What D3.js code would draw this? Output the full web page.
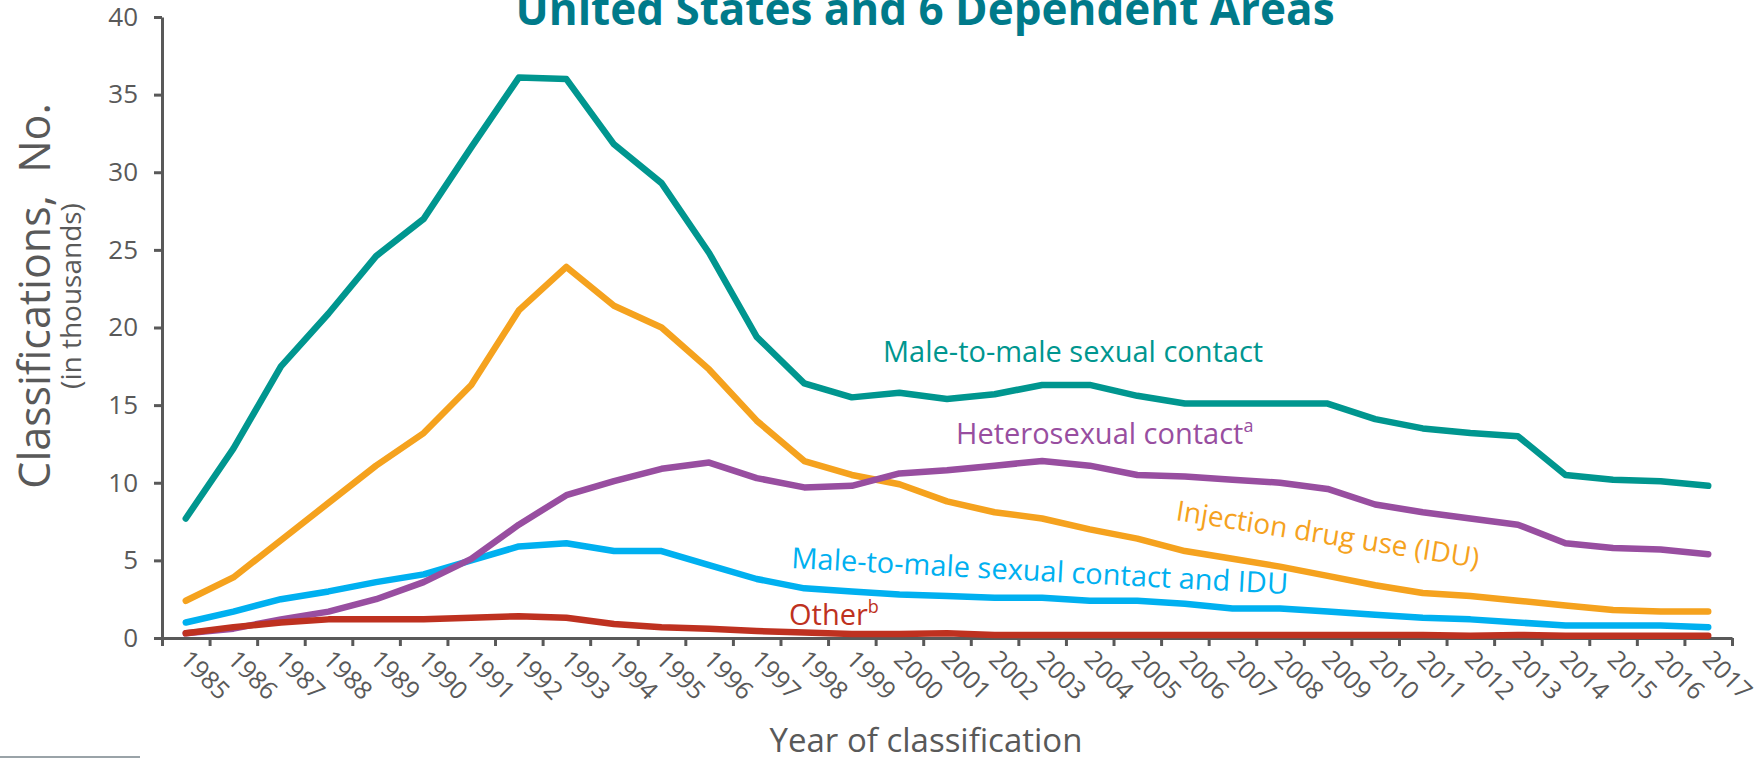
<!DOCTYPE html>
<meta charset="utf-8">
<script src="https://d3js.org/d3.v7.min.js"></script>
<style>
  body { margin: 0; background: #fff; }
  text { font-family: "Open Sans", "Noto Sans", sans-serif; }
</style>
<div id="chart"></div>
<script>

// year of classification (x categories)
var years = [1985, 1986, 1987, 1988, 1989, 1990, 1991, 1992, 1993, 1994, 1995,
             1996, 1997, 1998, 1999, 2000, 2001, 2002, 2003, 2004, 2005, 2006,
             2007, 2008, 2009, 2010, 2011, 2012, 2013, 2014, 2015, 2016, 2017];

// classifications, in thousands
var msm    = [7.7, 12.2, 17.5, 20.9, 24.6, 27.0, 31.6, 36.1, 36.0, 31.8, 29.3,
              24.8, 19.4, 16.4, 15.5, 15.8, 15.4, 15.7, 16.3, 16.3, 15.6, 15.1,
              15.1, 15.1, 15.1, 14.1, 13.5, 13.2, 13.0, 10.5, 10.2, 10.1, 9.8];
var idu    = [2.4, 3.9, 6.3, 8.7, 11.1, 13.2, 16.3, 21.1, 23.9, 21.4, 20.0,
              17.3, 14.0, 11.4, 10.5, 9.9, 8.8, 8.1, 7.7, 7.0, 6.4, 5.6,
              5.1, 4.6, 4.0, 3.4, 2.9, 2.7, 2.4, 2.1, 1.8, 1.7, 1.7];
var hetero = [0.3, 0.6, 1.2, 1.7, 2.5, 3.6, 5.1, 7.3, 9.2, 10.1, 10.9,
              11.3, 10.3, 9.7, 9.8, 10.6, 10.8, 11.1, 11.4, 11.1, 10.5, 10.4,
              10.2, 10.0, 9.6, 8.6, 8.1, 7.7, 7.3, 6.1, 5.8, 5.7, 5.4];
var msmIdu = [1.0, 1.7, 2.5, 3.0, 3.6, 4.1, 5.0, 5.9, 6.1, 5.6, 5.6,
              4.7, 3.8, 3.2, 3.0, 2.8, 2.7, 2.6, 2.6, 2.4, 2.4, 2.2,
              1.9, 1.9, 1.7, 1.5, 1.3, 1.2, 1.0, 0.8, 0.8, 0.8, 0.7];
var other  = [0.3, 0.7, 1.0, 1.2, 1.2, 1.2, 1.3, 1.4, 1.3, 0.9, 0.7,
              0.6, 0.45, 0.35, 0.25, 0.25, 0.3, 0.2, 0.2, 0.2, 0.2, 0.2,
              0.2, 0.2, 0.2, 0.2, 0.2, 0.15, 0.2, 0.15, 0.15, 0.15, 0.15];

var yTicks = [0, 5, 10, 15, 20, 25, 30, 35, 40];

var series = [
  {name: "Male-to-male sexual contact", values: msm, color: "#00968F"},
  {name: "Injection drug use (IDU)", values: idu, color: "#F5A21E"},
  {name: "Male-to-male sexual contact and IDU", values: msmIdu, color: "#00B0F0"},
  {name: "Heterosexual contact", values: hetero, color: "#984EA0"},
  {name: "Other", values: other, color: "#BE3120"}
];

// set the dimensions and margins of the graph
var margin = {top: 17, right: 32, bottom: 120, left: 162},
    width = 1764 - margin.left - margin.right,
    height = 758 - margin.top - margin.bottom;

var axisColor = "#595959";

var root = d3.select("#chart")
  .append("svg")
    .attr("width", 1764)
    .attr("height", 758);

var svg = root.append("g")
    .attr("transform", "translate(" + margin.left + "," + margin.top + ")");

// scales
var x = d3.scaleBand()
  .domain(years)
  .range([0, width]);

var xEdge = d3.scaleLinear()
  .domain([0, years.length])
  .range([0, width]);

var y = d3.scaleLinear()
  .domain([0, 40])
  .range([height, 0]);

// title (partly cut off at the top)
root.append("text")
  .attr("x", 925)
  .attr("y", 25)
  .attr("text-anchor", "middle")
  .style("font-size", "44px")
  .style("font-weight", "bold")
  .style("fill", "#007A8A")
  .text("United States and 6 Dependent Areas");

// Y axis
var yAxis = svg.append("g")
  .call(d3.axisLeft(y).tickValues(yTicks).tickSize(8).tickSizeOuter(0).tickPadding(16));
yAxis.select(".domain").attr("stroke", axisColor).attr("stroke-width", 3);
yAxis.selectAll(".tick line").attr("stroke", axisColor).attr("stroke-width", 3);
yAxis.selectAll(".tick text")
  .style("font-size", "26px")
  .style("font-family", "'Open Sans', sans-serif")
  .style("fill", axisColor);

// X axis: ticks sit on the band edges
var xAxis = svg.append("g")
  .attr("transform", "translate(0," + height + ")")
  .call(d3.axisBottom(xEdge).tickValues(d3.range(years.length + 1)).tickSize(8).tickSizeOuter(0).tickFormat(""));
xAxis.select(".domain").attr("stroke", axisColor).attr("stroke-width", 3);
xAxis.selectAll(".tick line").attr("stroke", axisColor).attr("stroke-width", 3);

// X tick labels, rotated
svg.append("g")
  .selectAll("text")
  .data(years)
  .enter()
  .append("text")
    .attr("transform", function(d) {
      return "translate(" + (x(d) + x.bandwidth() / 2 - 7) + "," + (height + 23) + ") rotate(45)";
    })
    .attr("text-anchor", "start")
    .style("font-size", "25px")
    .style("fill", axisColor)
    .text(function(d) { return d; });

// lines
var line = d3.line()
  .x(function(d, i) { return x(years[i]) + x.bandwidth() / 2; })
  .y(function(d) { return y(d); });

svg.append("g")
  .selectAll("path")
  .data(series)
  .enter()
  .append("path")
    .attr("d", function(d) { return line(d.values); })
    .attr("fill", "none")
    .attr("stroke", function(d) { return d.color; })
    .attr("stroke-width", 6.5)
    .attr("stroke-linejoin", "round")
    .attr("stroke-linecap", "round");

// series labels
function seriesLabel(text, sup, color, px, py, angle, size) {
  var t = root.append("text")
    .attr("transform", "translate(" + px + "," + py + ") rotate(" + angle + ")")
    .style("font-size", size + "px")
    .style("fill", color);
  t.append("tspan").text(text);
  if (sup) {
    t.append("tspan")
      .attr("dy", -12)
      .style("font-size", "18px")
      .text(sup);
  }
}
seriesLabel("Male-to-male sexual contact", null, "#00968F", 883, 362, 0, 29);
seriesLabel("Heterosexual contact", "a", "#984EA0", 956, 444, 0, 29);
seriesLabel("Injection drug use (IDU)", null, "#F5A21E", 1175, 520, 9, 28);
seriesLabel("Male-to-male sexual contact and IDU", null, "#00B0F0", 791, 568, 3, 29);
seriesLabel("Other", "b", "#BE3120", 789, 625, 0, 29);

// Y axis label
var yLabel = root.append("text")
  .attr("transform", "translate(50,296) rotate(-90)")
  .attr("text-anchor", "middle")
  .style("fill", axisColor)
  .style("white-space", "pre");
yLabel.append("tspan")
  .attr("x", 0)
  .attr("y", 0)
  .style("font-size", "43px")
  .text("Classifications,  No.");
yLabel.append("tspan")
  .attr("x", 0)
  .attr("y", 31)
  .style("font-size", "28px")
  .text("(in thousands)");

// X axis label
root.append("text")
  .attr("x", 926)
  .attr("y", 752)
  .attr("text-anchor", "middle")
  .style("font-size", "33px")
  .style("fill", axisColor)
  .text("Year of classification");

// footnote rule at the bottom left
root.append("line")
  .attr("x1", 0)
  .attr("x2", 140)
  .attr("y1", 757)
  .attr("y2", 757)
  .attr("stroke", "#9AA3A8")
  .attr("stroke-width", 2);

</script>
